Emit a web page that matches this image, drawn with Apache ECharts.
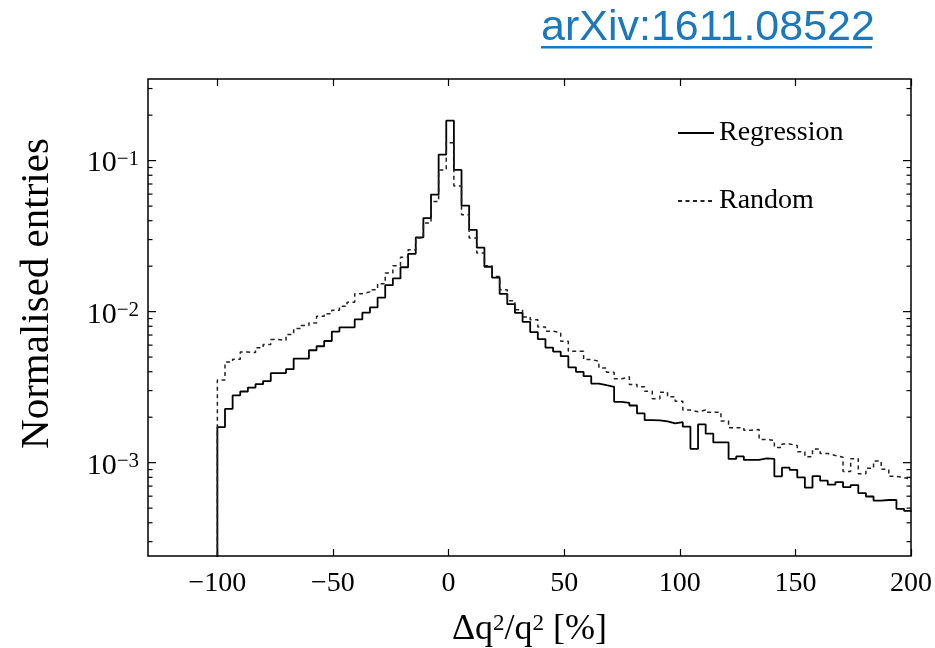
<!DOCTYPE html>
<html><head><meta charset="utf-8">
<script src="https://cdn.jsdelivr.net/npm/echarts@6/dist/echarts.min.js"></script>
<style>html,body{margin:0;padding:0;background:#fff}#c{width:935px;height:648px}</style>
</head><body><div id="c"></div>
<script>
// Histogram binning (bin left edges start at binStart, constant width)
const binStart = -100;
const binWidth = 3.3;
const underflow = 1e-6; // empty bins left of -100

// Normalised entries per bin
const regression = [
  1.72e-3, 2.27e-3, 2.79e-3, 2.96e-3, 3.14e-3, 3.31e-3, 3.47e-3, 3.92e-3, 3.92e-3, 4.16e-3,
  4.89e-3, 4.89e-3, 5.55e-3, 5.90e-3, 6.39e-3, 7.38e-3, 7.87e-3, 7.87e-3, 8.88e-3, 9.85e-3,
  1.066e-2, 1.238e-2, 1.497e-2, 1.66e-2, 1.968e-2, 2.416e-2, 3.098e-2, 4.163e-2, 5.96e-2, 0.1096,
  0.1838, 8.68e-2, 5.04e-2, 3.48e-2, 2.65e-2, 1.983e-2, 1.678e-2, 1.309e-2, 1.121e-2, 9.82e-3,
  8.56e-3, 7.32e-3, 6.58e-3, 5.78e-3, 5.44e-3, 5.07e-3, 4.28e-3, 3.995e-3, 3.736e-3, 3.342e-3,
  3.257e-3, 3.178e-3, 2.53e-3, 2.492e-3, 2.391e-3, 2.117e-3, 1.912e-3, 1.904e-3, 1.875e-3, 1.819e-3,
  1.855e-3, 1.73e-3, 1.234e-3, 1.791e-3, 1.555e-3, 1.362e-3, 1.362e-3, 1.059e-3, 1.1e-3, 1.043e-3,
  1.043e-3, 1.067e-3, 1.059e-3, 8.12e-4, 9.27e-4, 8.96e-4, 7.99e-4, 6.83e-4, 8.15e-4, 7.6e-4,
  7.15e-4, 7.44e-4, 6.89e-4, 7.11e-4, 6.29e-4, 5.97e-4, 5.61e-4, 5.66e-4, 5.66e-4, 4.95e-4,
  4.8e-4
];
const random = [
  3.53e-3, 4.64e-3, 4.84e-3, 5.40e-3, 5.36e-3, 5.76e-3, 6.05e-3, 6.53e-3, 6.46e-3, 7.05e-3,
  7.72e-3, 8.08e-3, 8.42e-3, 9.31e-3, 9.70e-3, 1.023e-2, 1.084e-2, 1.156e-2, 1.315e-2, 1.352e-2,
  1.398e-2, 1.532e-2, 1.803e-2, 2.014e-2, 2.292e-2, 2.569e-2, 3.07e-2, 3.86e-2, 5.36e-2, 8.68e-2,
  0.1315, 6.80e-2, 4.38e-2, 3.07e-2, 2.443e-2, 2.014e-2, 1.711e-2, 1.398e-2, 1.182e-2, 1.031e-2,
  9.23e-3, 8.85e-3, 7.92e-3, 7.41e-3, 7.26e-3, 6.36e-3, 5.46e-3, 5.46e-3, 4.82e-3, 4.69e-3,
  4.24e-3, 3.97e-3, 3.59e-3, 3.70e-3, 3.29e-3, 3.18e-3, 2.97e-3, 2.65e-3, 2.93e-3, 2.73e-3,
  2.55e-3, 2.23e-3, 2.17e-3, 2.23e-3, 2.16e-3, 2.16e-3, 1.884e-3, 1.703e-3, 1.703e-3, 1.642e-3,
  1.66e-3, 1.426e-3, 1.405e-3, 1.262e-3, 1.327e-3, 1.301e-3, 1.182e-3, 1.096e-3, 1.23e-3, 1.149e-3,
  1.117e-3, 1.087e-3, 8.73e-4, 1.062e-3, 8.43e-4, 9.17e-4, 1.025e-3, 9.03e-4, 8.12e-4, 7.96e-4,
  7.75e-4
];

const seriesNames = ['Regression', 'Random'];
const xRange = [-130, 200];
const yRange = [2.41e-4, 0.347];
const xTicks = [-100, -50, 0, 50, 100, 150, 200];
const yMajorTicks = [1e-3, 1e-2, 1e-1];
const yDecades = [1e-4, 1e-3, 1e-2, 1e-1];
const yMinorMultipliers = [2, 3, 4, 5, 6, 7, 8, 9];
const sourceLabel = 'arXiv:1611.08522';

const SERIF = '"Liberation Serif", "DejaVu Serif", serif';
const LINK = '#1b78bd';

function histPoints(vals) {
  const pts = [[binStart, underflow]];
  vals.forEach((v, i) => pts.push([binStart + i * binWidth, v]));
  pts.push([binStart + vals.length * binWidth, vals[vals.length - 1]]);
  return pts;
}

const yTickData = [];
yMajorTicks.forEach(v => yTickData.push([0, v, 1]));
yDecades.forEach(d => yMinorMultipliers.forEach(m => {
  const v = d * m;
  if (v > yRange[0] && v < yRange[1]) yTickData.push([0, v, 0]);
}));

const chart = echarts.init(document.getElementById('c'), null, {renderer: 'canvas'});

const fmtX = v => (v < 0 ? '\u2212' + Math.abs(v) : String(v));
const fmtY = v => {
  const e = Math.round(Math.log10(v));
  return '{b|10}{s|' + (e < 0 ? '\u2212' + Math.abs(e) : String(e)) + '}';
};

const option = {
  backgroundColor: '#fff',
  animation: false,
  grid: {left: 148, right: 24, top: 79, bottom: 92, outerBoundsMode: 'none', containLabel: false, show: true, borderColor: '#000', borderWidth: 1.5, backgroundColor: 'transparent'},
  graphic: [
    {type: 'text', left: 541, top: 7, style: {text: sourceLabel, font: '43px "Liberation Sans", Arial, sans-serif', fill: LINK}},
    {type: 'rect', left: 541, top: 46, shape: {width: 331, height: 2.5}, style: {fill: LINK}}
  ],
  legend: {
    data: seriesNames,
    orient: 'vertical',
    left: 672,
    top: 114,
    itemWidth: 36,
    itemHeight: 14,
    itemGap: 40,
    selectedMode: false,
    itemStyle: {color: 'transparent', borderColor: 'transparent', borderWidth: 0},
    textStyle: {fontFamily: SERIF, fontSize: 28, color: '#000'}
  },
  xAxis: [
    {
      type: 'value', min: xRange[0], max: xRange[1], position: 'bottom',
      axisLine: {show: false},
      splitLine: {show: false},
      axisTick: {show: true, inside: true, length: 7, customValues: xTicks, lineStyle: {color: '#000', width: 1.2}},
      axisLabel: {customValues: xTicks, formatter: fmtX, fontFamily: SERIF, fontSize: 28, color: '#000', margin: 14},
      name: '{t|\u0394q}{s|2}{t|/q}{s|2}{t| [%]}',
      nameLocation: 'middle',
      nameGap: 56,
      nameTextStyle: {rich: {t: {fontFamily: SERIF, fontSize: 36, color: '#000'}, s: {fontFamily: SERIF, fontSize: 23, color: '#000', verticalAlign: 'top'}}}
    },
    {
      type: 'value', min: xRange[0], max: xRange[1], position: 'top',
      axisLine: {show: false},
      splitLine: {show: false},
      axisTick: {show: true, inside: true, length: 7, customValues: xTicks, lineStyle: {color: '#000', width: 1.2}},
      axisLabel: {show: false}
    }
  ],
  yAxis: [
    {
      type: 'log', logBase: 10, min: yRange[0], max: yRange[1],
      axisLine: {show: false},
      axisTick: {show: false},
      splitLine: {show: false},
      axisLabel: {
        formatter: fmtY, showMinLabel: false, showMaxLabel: false, margin: 9, padding: [6, 0, 0, 0],
        rich: {b: {fontFamily: SERIF, fontSize: 30, color: '#000'}, s: {fontFamily: SERIF, fontSize: 21, color: '#000', verticalAlign: 'top'}}
      },
      name: 'Normalised entries',
      nameLocation: 'middle',
      nameGap: 90,
      nameTextStyle: {fontFamily: SERIF, fontSize: 41, color: '#000', padding: [0, 0, 0, 48]}
    }
  ],
  series: [
    {
      name: seriesNames[0], type: 'line', step: 'end', data: histPoints(regression),
      symbol: 'none', clip: true,
      lineStyle: {color: '#000', width: 1.8, type: 'solid'},
      itemStyle: {color: '#000'}
    },
    {
      name: seriesNames[1], type: 'line', step: 'end', data: histPoints(random),
      symbol: 'none', clip: true,
      lineStyle: {color: '#222', width: 1.5, type: [4, 3.5]},
      itemStyle: {color: '#222'}
    },
    {
      name: 'yticks', type: 'custom', data: yTickData, encode: {x: 0, y: 1}, silent: true, clip: false,
      renderItem: function (params, api) {
        const v = api.value(1);
        const major = api.value(2) === 1;
        const y = api.coord([0, v])[1];
        const cs = params.coordSys;
        const len = major ? 8 : 4.5;
        const st = {stroke: '#000', lineWidth: 1.2};
        return {type: 'group', children: [
          {type: 'line', shape: {x1: cs.x, y1: y, x2: cs.x + len, y2: y}, style: st},
          {type: 'line', shape: {x1: cs.x + cs.width, y1: y, x2: cs.x + cs.width - len, y2: y}, style: st}
        ]};
      }
    }
  ]
};
chart.setOption(option);
</script></body></html>
